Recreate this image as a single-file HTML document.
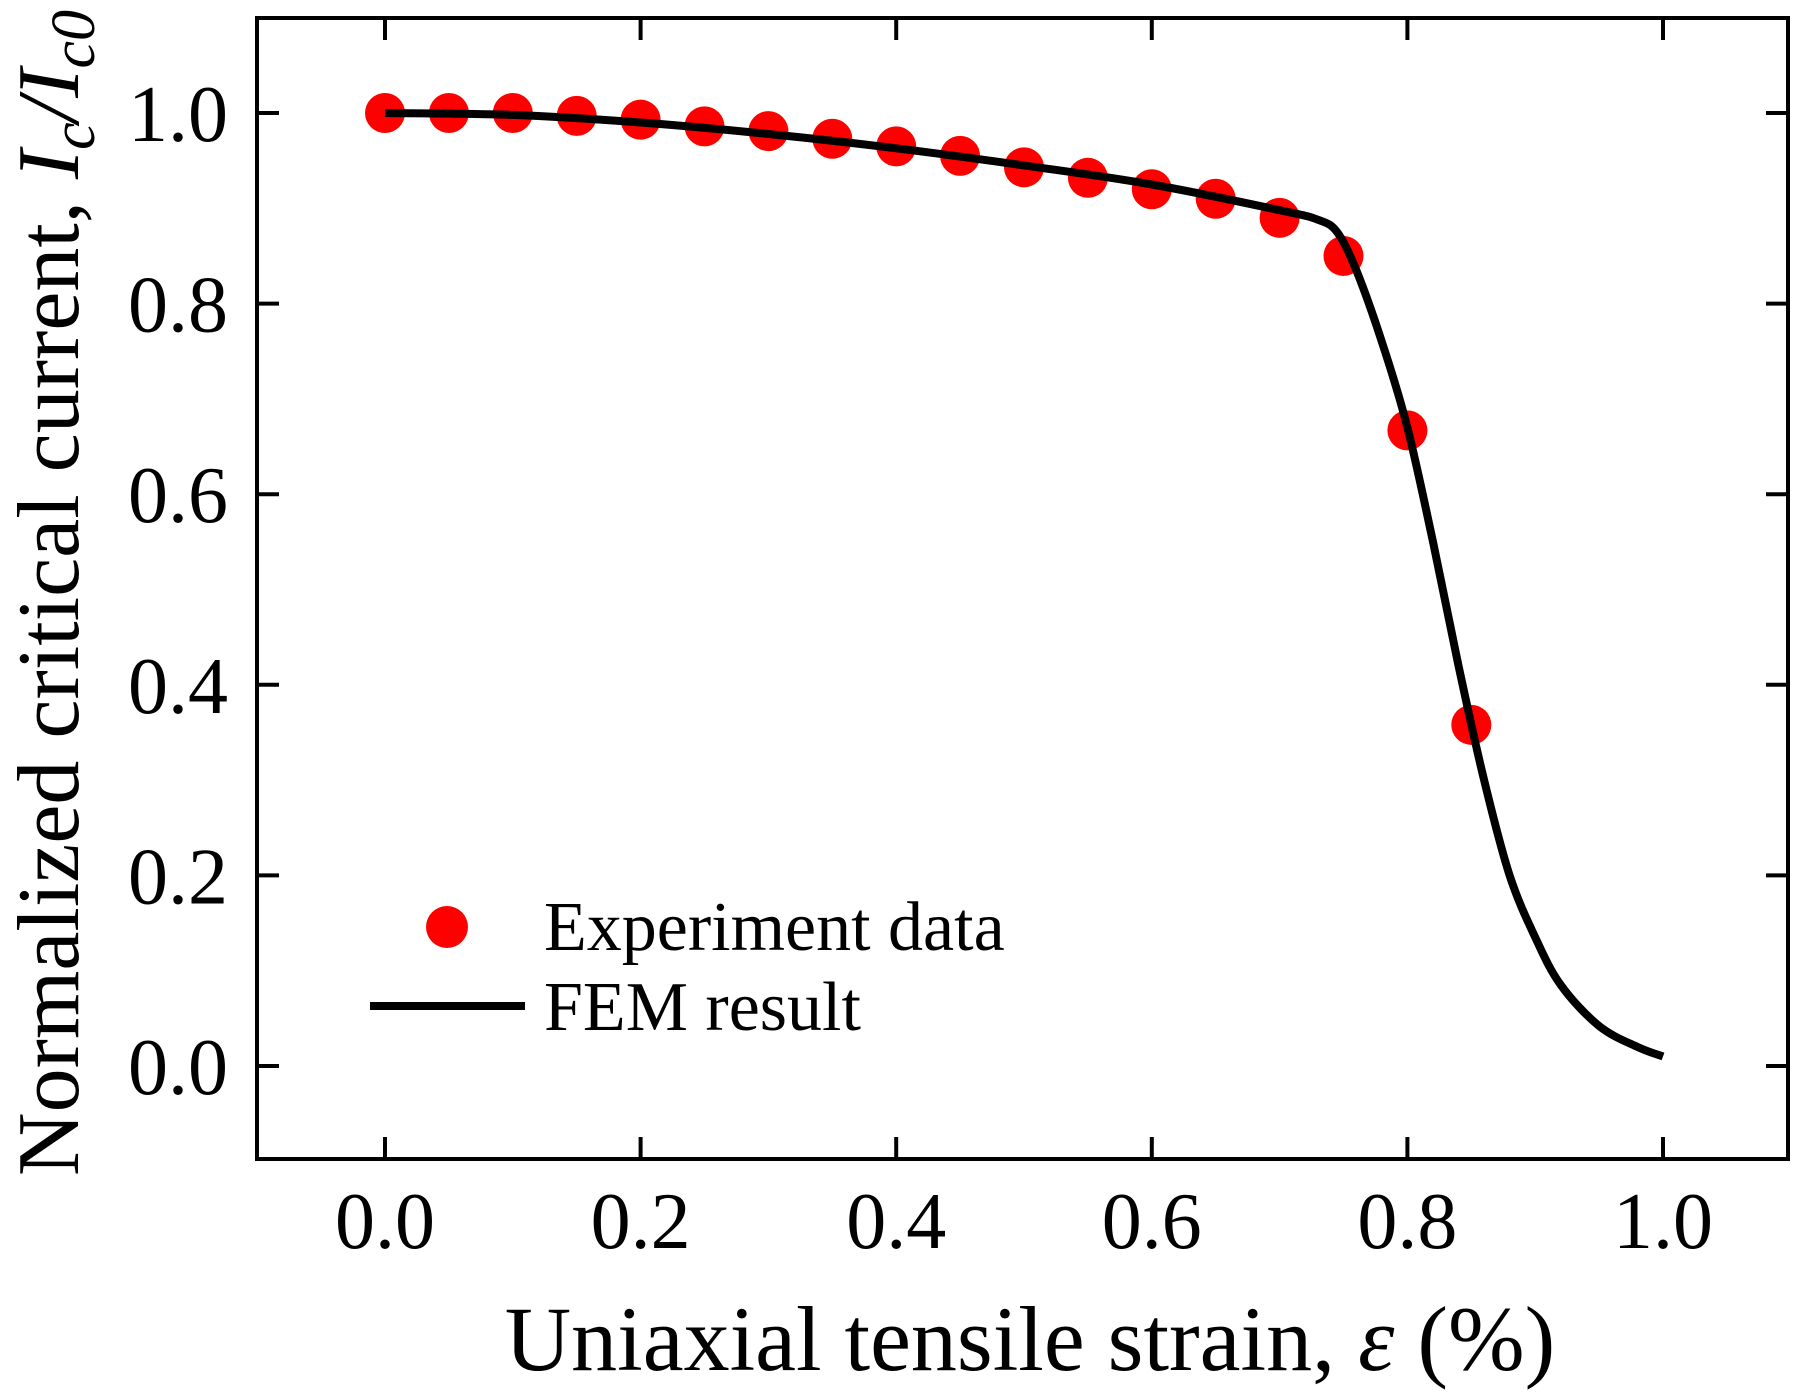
<!DOCTYPE html>
<html><head><meta charset="utf-8"><style>
html,body{margin:0;padding:0;background:#fff;}
svg{display:block;font-family:"Liberation Serif",serif;}
</style></head><body>
<svg id="chart" width="1813" height="1394" viewBox="0 0 1813 1394" xmlns="http://www.w3.org/2000/svg">
<g id="marks"></g>
<rect x="257" y="18" width="1531" height="1141" fill="none" stroke="#000" stroke-width="4"/>
<g id="ticks"></g>
<text x="1030" y="1370" font-size="92" text-anchor="middle">Uniaxial tensile strain, <tspan font-style="italic">ε</tspan> (%)</text>
<text transform="translate(78,593) rotate(-90)" font-size="88" text-anchor="middle">Normalized critical current, <tspan font-style="italic">I<tspan font-size="62" dy="16">c</tspan><tspan dy="-16">/I</tspan><tspan font-size="62" dy="16">c0</tspan></tspan></text>
<g>
<circle cx="447" cy="927" r="21" fill="#ff0000"/>
<text x="544" y="950" font-size="70">Experiment data</text>
<line x1="370" y1="1006" x2="525" y2="1006" stroke="#000" stroke-width="8"/>
<text x="544" y="1030" font-size="70">FEM result</text>
</g>
</svg>
<script>
const expStrain=[0,0.05,0.1,0.15,0.2,0.25,0.3,0.35,0.4,0.45,0.5,0.55,0.6,0.65,0.7,0.75,0.8,0.85];
const expIc=[1.0,1.0,1.0,0.997,0.993,0.986,0.981,0.973,0.965,0.955,0.943,0.932,0.92,0.91,0.89,0.85,0.667,0.358];
const femStrain=[0,0.1,0.2,0.3,0.4,0.5,0.6,0.7,0.73,0.745,0.76,0.78,0.8,0.82,0.84,0.86,0.88,0.9,0.92,0.95,0.98,1.0];
const femIc=[1.0,0.998,0.99,0.978,0.963,0.945,0.925,0.898,0.888,0.875,0.835,0.76,0.67,0.55,0.42,0.30,0.20,0.135,0.085,0.042,0.02,0.01];
const xTicks=[0,0.2,0.4,0.6,0.8,1.0];
const yTicks=[0,0.2,0.4,0.6,0.8,1.0];
const X0=385,X1=1663,Y0=1066,Y1=113,L=257,R=1788,T=18,B=1159;
function sx(v){return X0+(X1-X0)*v;}
function sy(v){return Y0+(Y1-Y0)*v;}
const NS="http://www.w3.org/2000/svg";
const marks=document.getElementById('marks'),ticks=document.getElementById('ticks');
function mk(tag,attrs,parent){const e=document.createElementNS(NS,tag);for(const k in attrs)e.setAttribute(k,attrs[k]);parent.appendChild(e);return e;}
const P=femStrain.map((s,i)=>[sx(s),sy(femIc[i])]);
let d='M'+P[0][0].toFixed(1)+' '+P[0][1].toFixed(1);
for(let i=0;i<P.length-1;i++){
 const p0=P[Math.max(0,i-1)],p1=P[i],p2=P[i+1],p3=P[Math.min(P.length-1,i+2)];
 const c1=[p1[0]+(p2[0]-p0[0])/6,p1[1]+(p2[1]-p0[1])/6];
 const c2=[p2[0]-(p3[0]-p1[0])/6,p2[1]-(p3[1]-p1[1])/6];
 d+='C'+c1[0].toFixed(1)+' '+c1[1].toFixed(1)+' '+c2[0].toFixed(1)+' '+c2[1].toFixed(1)+' '+p2[0].toFixed(1)+' '+p2[1].toFixed(1);
}
for(let i=0;i<expStrain.length;i++){
 const c=mk('circle',{cx:sx(expStrain[i]),cy:sy(expIc[i]),r:20,fill:'#ff0000'},marks);
 
 
}
const path=mk('path',{d:d,fill:'none',stroke:'#000','stroke-width':8,'stroke-linejoin':'round'},marks);


for(const v of xTicks){
 const x=sx(v);
 mk('line',{x1:x,y1:B,x2:x,y2:B-22,stroke:'#000','stroke-width':4},ticks);
 mk('line',{x1:x,y1:T,x2:x,y2:T+22,stroke:'#000','stroke-width':4},ticks);
 const t=mk('text',{x:x,y:1248,'font-size':80,'text-anchor':'middle'},ticks);
 t.textContent=v.toFixed(1);
 
 
}
for(const v of yTicks){
 const y=sy(v);
 mk('line',{x1:L,y1:y,x2:L+22,y2:y,stroke:'#000','stroke-width':4},ticks);
 mk('line',{x1:R,y1:y,x2:R-22,y2:y,stroke:'#000','stroke-width':4},ticks);
 const t=mk('text',{x:228,y:y+28,'font-size':80,'text-anchor':'end'},ticks);
 t.textContent=v.toFixed(1);
 
 
}
</script>
</body></html>
